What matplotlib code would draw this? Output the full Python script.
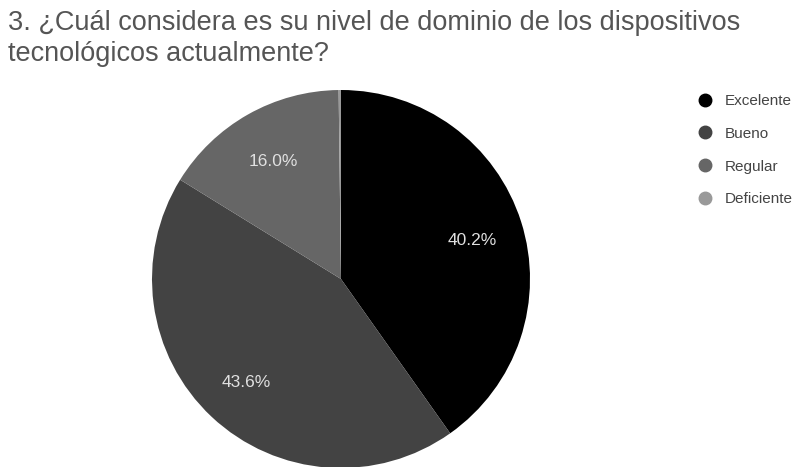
import matplotlib
matplotlib.use("Agg")
import matplotlib.pyplot as plt
import matplotlib.transforms as mtransforms
from matplotlib.lines import Line2D

plt.rcParams["font.family"] = ["Liberation Sans", "DejaVu Sans"]

# Respuestas de la pregunta 3 (porcentajes)
categorias = ["Excelente", "Bueno", "Regular", "Deficiente"]
porcentajes = [40.2, 43.6, 16.0, 0.2]
colores = ["#000000", "#434343", "#666666", "#999999"]

titulo = "3. ¿Cuál considera es su nivel de dominio de los dispositivos\ntecnológicos actualmente?"

fig = plt.figure(figsize=(7.99, 4.67), dpi=100)
fig.patch.set_facecolor("white")

# Eje cuadrado para el pastel
W, H = 799, 467
cx, cy, r = 341, 279, 189
ax = fig.add_axes([(cx - r) / W, (H - cy - r) / H, 2 * r / W, 2 * r / H])


def etiqueta(p):
    return f"{p:.1f}%" if p >= 1 else ""


cunas, textos, pct = ax.pie(
    porcentajes,
    colors=colores,
    startangle=90,
    counterclock=False,
    autopct=etiqueta,
    pctdistance=0.73,
    radius=1,
    wedgeprops=dict(linewidth=0),
    textprops=dict(color="#e0e0e0", fontsize=12.5),
)
# bajar un poco las etiquetas de porcentaje
desplazamiento = mtransforms.ScaledTranslation(0, -3 / 100, fig.dpi_scale_trans)
for t in pct:
    t.set_transform(t.get_transform() + desplazamiento)

ax.set_xlim(-1, 1)
ax.set_ylim(-1, 1)
ax.set_aspect("equal")
ax.axis("off")

fig.text(8 / W, 1 - 10 / H, titulo, ha="left", va="top", fontsize=19.5,
         color="#555555", linespacing=1.25)

manejadores = [Line2D([], [], marker="o", linestyle="", markersize=9,
                      markerfacecolor=c, markeredgecolor=c) for c in colores]
fig.legend(manejadores, categorias, loc="upper left",
           bbox_to_anchor=(697 / W, 1 - 94 / H), frameon=False,
           fontsize=11, labelcolor="#444444", labelspacing=1.23,
           handlelength=1.0, handletextpad=0.8, borderpad=0, borderaxespad=0)

fig.savefig("out.png", dpi=100)
